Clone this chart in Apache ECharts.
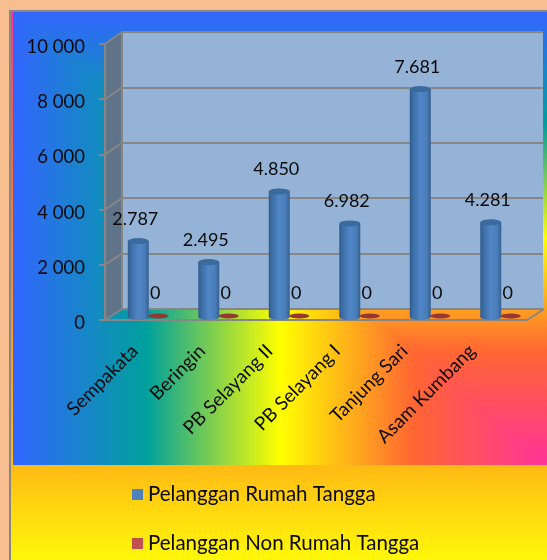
<!DOCTYPE html>
<html>
<head>
<meta charset="utf-8">
<style>html,body{margin:0;padding:0;background:#F9BE8F;}#c{width:547px;height:560px;}</style>
<script src="https://cdn.jsdelivr.net/npm/echarts@6/dist/echarts.min.js"></script>
</head>
<body>
<div id="c"></div>
<script>
const categories = ['Sempakata','Beringin','PB Selayang II','PB Selayang I','Tanjung Sari','Asam Kumbang'];
const rumahTanggaValues = [2750, 1990, 4550, 3390, 8260, 3430];
const nonRumahTanggaValues = [0, 0, 0, 0, 0, 0];
const rumahTanggaLabels = ['2.787','2.495','4.850','6.982','7.681','4.281'];
const nonRumahTanggaLabels = ['0','0','0','0','0','0'];
const yTickLabels = ['0','2 000','4 000','6 000','8 000','10 000'];
const seriesNames = ['Pelanggan Rumah Tangga','Pelanggan Non Rumah Tangga'];

const FONT = 'Lato';
const GRAY = '#868686';
const rainbow = [
  {offset:0,color:'#3366FF'},{offset:0.25,color:'#00A09C'},{offset:0.5,color:'#FFFF00'},
  {offset:0.75,color:'#FF6633'},{offset:1,color:'#FF3399'}
];
const cyl = {type:'linear',x:0,y:0,x2:1,y2:0,colorStops:[
  {offset:0,color:'#2F5B8C'},{offset:0.12,color:'#3A6AA0'},{offset:0.5,color:'#5087C8'},
  {offset:0.8,color:'#4A7DB9'},{offset:1,color:'#35608F'}
]};

const decor = [
  {type:'rect',z:-30,shape:{x:9,y:10,width:538,height:550},style:{fill:GRAY}},
  {type:'rect',z:-29,shape:{x:11,y:12,width:536,height:548},style:{fill:{type:'linear',x:0,y:0,x2:0,y2:1,colorStops:[
    {offset:0,color:'#FF3399'},{offset:0.25,color:'#FF6633'},{offset:0.6,color:'#FF9A20'},
    {offset:0.83,color:'#FFBB14'},{offset:1,color:'#FFF80A'}]}}},
  {type:'rect',z:-28,shape:{x:13,y:12,width:534,height:453},style:{fill:{type:'linear',x:0,y:0,x2:0,y2:1,colorStops:rainbow}}},
  {type:'polygon',z:-27,shape:{points:[[13,12],[13,465],[547,465]]},style:{fill:{type:'linear',x:0,y:0,x2:1,y2:0,colorStops:rainbow}}},
  {type:'rect',z:-26,shape:{x:122,y:32,width:421,height:277},style:{fill:'#95B3D7'}},
  {type:'polygon',z:-25,shape:{points:[[105,44],[122,32],[122,309],[105,320]]},style:{fill:'#5F7389'}},
  {type:'line',z:-24,shape:{x1:122,y1:32,x2:122,y2:309},style:{stroke:GRAY,lineWidth:2}},
  {type:'line',z:-24,shape:{x1:527,y1:320,x2:544,y2:309},style:{stroke:GRAY,lineWidth:2}}
];
// recessed side-wall rules joining the front ticks to the back gridlines
for (let i = 0; i < yTickLabels.length; i++) {
  const yf = 320 - i * 55.2, yb = 309 - i * 55.4;
  decor.push({type:'line',z:-24,shape:{x1:105,y1:yf,x2:122,y2:yb},style:{stroke:GRAY,lineWidth:2}});
}

const cap = (name, values, color, dx, pos, w, h, dy, z) => ({
  type:'pictorialBar', name, xAxisIndex:2, yAxisIndex:2, symbol:'circle',
  symbolSize:[w,h], symbolPosition:pos, symbolOffset:[dx,dy], z, silent:true,
  itemStyle:{color}, data:values
});

const option = {
  animation:false,
  backgroundColor:'#F9BE8F',
  textStyle:{fontFamily:FONT},
  graphic:{elements:decor},
  legend:{
    orient:'vertical', left:132, top:484, height:76, padding:0, itemGap:28, itemWidth:11, itemHeight:11,
    icon:'rect',
    data:[
      {name:seriesNames[0],itemStyle:{color:'#4F81BD'}},
      {name:seriesNames[1],itemStyle:{color:'#C0504D'}}
    ],
    textStyle:{fontFamily:FONT,fontSize:20.5,color:'#0a0a0a'},
    itemStyle:{borderWidth:0}
  },
  grid:[
    {left:105,top:44,width:422,height:276},   // front frame
    {left:122,top:32,width:421,height:277},   // back wall
    {left:113,top:41,width:423,height:276},   // columns
    {left:101,top:47,width:405,height:276}    // tick and category names
  ],
  xAxis:[
    {gridIndex:0,type:'category',data:categories,boundaryGap:true,
      axisLine:{lineStyle:{color:GRAY,width:2}},axisTick:{length:6,lineStyle:{color:GRAY,width:2}},axisLabel:{show:false}},
    {gridIndex:1,type:'category',data:categories,show:false},
    {gridIndex:2,type:'category',data:categories,show:false},
    {gridIndex:3,type:'category',data:categories,
      axisLine:{show:false},axisTick:{show:false},
      axisLabel:{rotate:45,interval:0,margin:25,fontFamily:FONT,fontSize:19,color:'#0a0a0a'}}
  ],
  yAxis:[
    {gridIndex:0,type:'value',min:0,max:10000,interval:2000,
      axisLine:{show:true,lineStyle:{color:GRAY,width:2}},axisTick:{show:true,length:6,lineStyle:{color:GRAY,width:2}},
      splitLine:{show:false},axisLabel:{show:false}},
    {gridIndex:1,type:'value',min:0,max:10000,interval:2000,
      axisLine:{show:false},axisTick:{show:false},axisLabel:{show:false},
      splitLine:{show:true,lineStyle:{color:GRAY,width:2}}},
    {gridIndex:2,type:'value',min:0,max:10000,show:false,splitLine:{show:false}},
    {gridIndex:3,type:'value',min:0,max:10000,interval:2000,
      axisLine:{show:false},axisTick:{show:false},splitLine:{show:false},
      axisLabel:{margin:16,fontFamily:FONT,fontSize:18.5,color:'#0a0a0a',formatter:(v)=>yTickLabels[v/2000]}}
  ],
  series:[
    {type:'bar',name:seriesNames[0],xAxisIndex:2,yAxisIndex:2,data:rumahTanggaValues,
      barWidth:21,barGap:'-5%',z:5,itemStyle:{color:cyl},
      label:{show:true,position:'top',distance:13,offset:[-3,0],fontFamily:FONT,fontSize:18,color:'#0a0a0a',
        formatter:(p)=>rumahTanggaLabels[p.dataIndex]}},
    {type:'bar',name:seriesNames[1],xAxisIndex:2,yAxisIndex:2,data:nonRumahTanggaValues,
      barWidth:21,z:5,itemStyle:{color:'#C0504D'},
      label:{show:true,position:'top',distance:15,offset:[-3,0],fontFamily:FONT,fontSize:18,color:'#0a0a0a',
        formatter:(p)=>nonRumahTanggaLabels[p.dataIndex]}},
    cap('capBase',rumahTanggaValues,cyl,-10,'start',21,6,3,4),
    cap('capTop',rumahTanggaValues,'#3A6A9E',-10,'end',21,6,-3,6),
    cap('capZero',nonRumahTanggaValues,'#953735',10,'end',20,5,-3.5,6)
  ]
};
const chart = echarts.init(document.getElementById('c'));
chart.setOption(option);
</script>
</body>
</html>
